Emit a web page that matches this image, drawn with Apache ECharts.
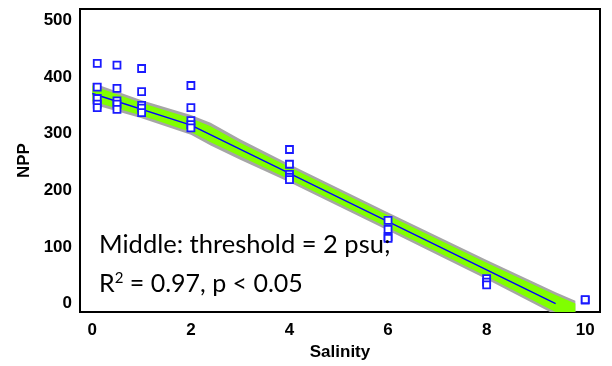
<!DOCTYPE html>
<html>
<head>
<meta charset="utf-8">
<script src="https://cdn.jsdelivr.net/npm/echarts@6/dist/echarts.min.js"></script>
<style>html,body{margin:0;padding:0;background:#fff;}#c{width:612px;height:366px;}</style>
</head>
<body>
<div id="c"></div>
<script>
// Observations (salinity, NPP)
const obsSalinity = [0.1,0.1,0.1,0.1,0.1, 0.5,0.5,0.5,0.5,0.5, 1,1,1,1,1, 2,2,2,2,2, 4,4,4,4,4, 6,6,6,6, 8,8,8, 10,10];
const obsNPP      = [424,382,362,352,346, 421,380,358,352,343, 415,374,350,345,337, 385,346,323,316,310, 272,246,228,223,219, 147,131,118,115, 44,38,33, 6,7];

// Fitted threshold model line
const fitSalinity = [0, 2, 9.4];
const fitNPP      = [371, 315, 0];

// Confidence bands
const bandSalinity = [0, 1, 2, 2.4, 3, 4, 6, 8, 9.4, 9.8];
const grayUpper  = [390, 359, 333, 319, 290, 246, 161, 77, 20, 5];
const grayLower  = [352, 327, 298, 279, 254, 214, 129, 43, -20, -39];
const greenUpper = [385, 354, 327, 313, 284, 241, 156, 72, 15, 0];
const greenLower = [357, 332, 303, 285, 260, 219, 134, 48, -15, -34];

// Tick labels
const xTicks = [0, 2, 4, 6, 8, 10];
const yTicks = [0, 100, 200, 300, 400, 500];

const chart = echarts.init(document.getElementById('c'), null, {renderer: 'canvas'});

function bandSeries(upper, lower, color) {
  return {
    type: 'custom',
    clip: true,
    silent: true,
    data: [[0, 0]],
    encode: {x: 0, y: 1},
    renderItem: function (params, api) {
      const pts = [];
      for (let i = 0; i < bandSalinity.length; i++) pts.push(api.coord([bandSalinity[i], upper[i]]));
      for (let i = bandSalinity.length - 1; i >= 0; i--) pts.push(api.coord([bandSalinity[i], lower[i]]));
      return {type: 'polygon', shape: {points: pts}, style: {fill: color, stroke: null}};
    }
  };
}

const labelStyle = {fontFamily: 'Liberation Sans', fontWeight: 'bold', fontSize: 17, color: '#000'};

chart.setOption({
  animation: false,
  backgroundColor: '#fff',
  grid: {left: 80, right: 12, top: 9, bottom: 52, show: true, borderColor: '#000', borderWidth: 2, backgroundColor: 'transparent'},
  xAxis: {
    type: 'value', min: -0.25, max: 10.3,
    name: 'Salinity', nameLocation: 'middle', nameGap: 30,
    nameTextStyle: {fontFamily: 'Liberation Sans', fontWeight: 'bold', fontSize: 17, color: '#000'},
    axisLine: {show: false}, axisTick: {show: false}, splitLine: {show: false},
    axisLabel: Object.assign({customValues: xTicks, margin: 10}, labelStyle)
  },
  yAxis: {
    type: 'value', min: -15, max: 520,
    name: 'NPP', nameLocation: 'middle', nameGap: 42,
    nameTextStyle: {fontFamily: 'Liberation Sans', fontWeight: 'bold', fontSize: 17, color: '#000'},
    axisLine: {show: false}, axisTick: {show: false}, splitLine: {show: false},
    axisLabel: Object.assign({customValues: yTicks, margin: 8}, labelStyle)
  },
  graphic: [
    {type: 'text', left: 99, top: 232, z: 100,
     style: {text: 'Middle: threshold = 2 psu;', font: '25.5px Lato', fill: '#000'}},
    {type: 'text', left: 99, top: 271, z: 100,
     style: {text: 'R{sup|2} = 0.97, p < 0.05', font: '25px Lato', fill: '#000',
             rich: {sup: {fontSize: 15, fontFamily: 'Lato', verticalAlign: 'top', padding: [0, 0, 11, 0]}}}}
  ],
  series: [
    bandSeries(grayUpper, grayLower, '#a6a6a6'),
    bandSeries(greenUpper, greenLower, '#80ff00'),
    {
      type: 'line', data: fitSalinity.map((x, i) => [x, fitNPP[i]]),
      showSymbol: false, lineStyle: {color: '#0000ff', width: 1.5}, z: 3, silent: true
    },
    {
      type: 'scatter', data: obsSalinity.map((x, i) => [x, obsNPP[i]]),
      symbol: 'rect', symbolSize: 7,
      itemStyle: {color: '#fff', borderColor: '#1a1aff', borderWidth: 1.8, opacity: 1}, z: 4, silent: true
    }
  ]
});
</script>
</body>
</html>
